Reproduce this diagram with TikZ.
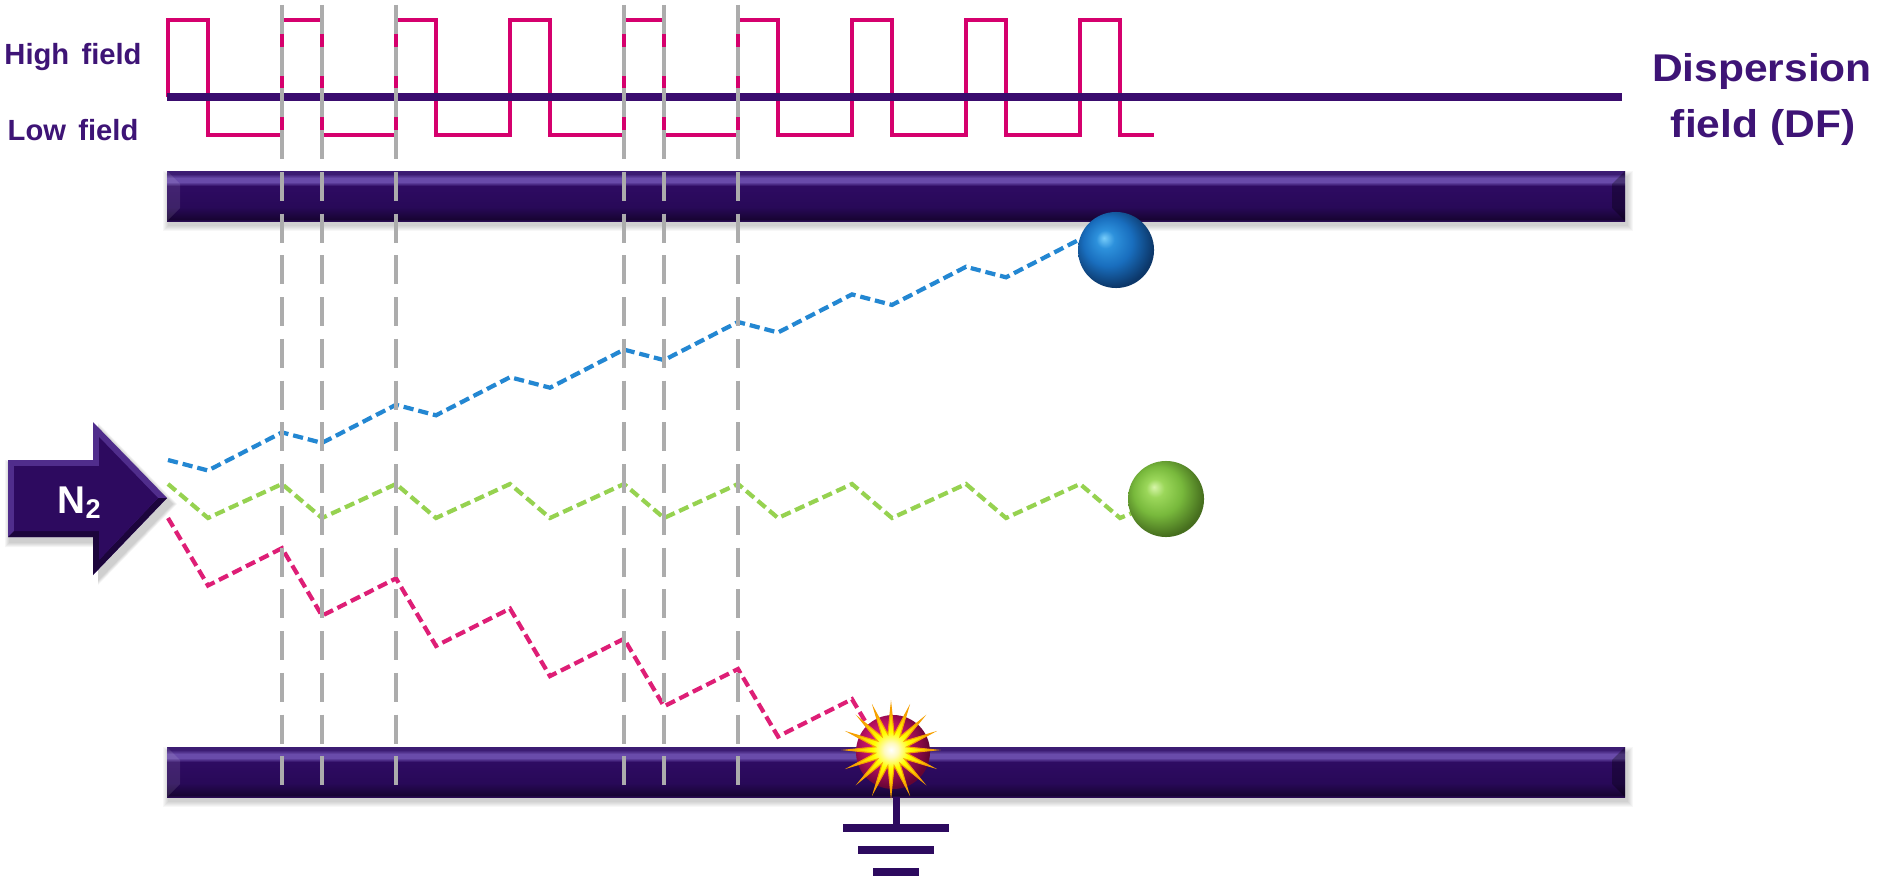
\documentclass[tikz,border=0pt]{standalone}
\usepackage{fontspec}
\setmainfont{Liberation Sans}
\usetikzlibrary{shapes.geometric}

% palette
\definecolor{deeppurple}{RGB}{45,10,95}
\definecolor{linepurple}{RGB}{58,12,110}
\definecolor{labelpurple}{RGB}{62,20,118}
\definecolor{fieldpink}{RGB}{213,0,109}
\definecolor{gridgrey}{RGB}{172,172,172}
\definecolor{ionblue}{RGB}{35,135,210}
\definecolor{iongreen}{RGB}{150,210,80}
\definecolor{ionpink}{RGB}{222,30,118}
\definecolor{arrowlight}{RGB}{80,45,140}
\definecolor{arrowdark}{RGB}{28,5,60}
\definecolor{sparkcore}{RGB}{255,250,190}
\definecolor{sparkrim}{RGB}{246,160,0}

% bar shading (bottom to top)
\definecolor{barT}{RGB}{60,28,115}
\definecolor{barL}{RGB}{105,75,170}
\definecolor{barM}{RGB}{46,11,98}
\definecolor{barC}{RGB}{40,9,88}
\definecolor{barD}{RGB}{24,4,52}
\definecolor{barE}{RGB}{42,12,82}
\pgfdeclareverticalshading{barshade}{100bp}{color(0bp)=(barE); color(25bp)=(barE); color(27bp)=(barD); color(39bp)=(barC); color(60bp)=(barM); color(64bp)=(barL); color(68bp)=(barL); color(72bp)=(barT); color(75bp)=(barT); color(100bp)=(barT)}

% sphere shadings
\definecolor{bbA}{RGB}{120,205,250}
\definecolor{bbB}{RGB}{45,145,220}
\definecolor{bbC}{RGB}{25,110,190}
\definecolor{bbD}{RGB}{12,55,105}
\definecolor{gbA}{RGB}{215,245,170}
\definecolor{gbB}{RGB}{155,215,90}
\definecolor{gbC}{RGB}{120,185,60}
\definecolor{gbD}{RGB}{70,110,30}
\definecolor{pbA}{RGB}{245,120,180}
\definecolor{pbB}{RGB}{215,30,120}
\definecolor{pbC}{RGB}{180,15,95}
\definecolor{pbD}{RGB}{100,5,50}
\pgfdeclareradialshading{blueball}{\pgfpoint{-8bp}{8bp}}{color(0bp)=(bbA); color(6bp)=(bbB); color(16bp)=(bbC); color(28bp)=(bbD); color(50bp)=(bbD)}
\pgfdeclareradialshading{greenball}{\pgfpoint{-8bp}{8bp}}{color(0bp)=(gbA); color(6bp)=(gbB); color(16bp)=(gbC); color(28bp)=(gbD); color(50bp)=(gbD)}
\pgfdeclareradialshading{pinkball}{\pgfpoint{-8bp}{8bp}}{color(0bp)=(pbA); color(6bp)=(pbB); color(16bp)=(pbC); color(28bp)=(pbD); color(50bp)=(pbD)}
\pgfdeclareradialshading{sparkshade}{\pgfpoint{0bp}{0bp}}{color(0bp)=(white); color(4bp)=(sparkcore); color(10bp)=(yellow); color(25bp)=(sparkrim); color(50bp)=(sparkrim)}

\tikzset{
  wave/.style={draw=fieldpink, line width=1pt, line join=miter},
  baseline/.style={draw=linepurple, line width=2.1pt},
  guide/.style={draw=gridgrey, line width=0.95pt, dash pattern=on 8.25pt off 3.62pt},
  traj/.style={line width=1.2pt, dash pattern=on 2.9pt off 1.4pt, line join=miter},
  ion/.style={circle, minimum size=0.76cm, inner sep=0pt, shade},
  lbl/.style={text=labelpurple, font=\fontsize{8.3}{10}\selectfont\bfseries, inner sep=0pt},
  biglbl/.style={text=labelpurple, font=\fontsize{11}{13}\selectfont\bfseries, inner sep=0pt},
  earth/.style={draw=deeppurple, line width=2pt}
}

% bevelled bar with a soft shadow; #1 = top edge
\newcommand\purplebar[1]{%
  \foreach \s in {1,...,6}{%
    \fill[black, opacity=0.03] (169-\s,#1+6-\s) rectangle (1627+\s,#1+54+\s);}
  \shade[shading=barshade] (167,#1) rectangle (1625,#1+50);
  \fill[white, opacity=0.10] (167,#1) -- (180,#1+13) -- (180,#1+37) -- (167,#1+50) -- cycle;
  \fill[black, opacity=0.30] (1625,#1) -- (1612,#1+13) -- (1612,#1+37) -- (1625,#1+50) -- cycle;
}

\begin{document}
\begin{tikzpicture}[x=0.01cm, y=-0.01cm]
\useasboundingbox (0,0) rectangle (1889,879);
\fill[white] (0,0) rectangle (1889,879);

% asymmetric waveform
\draw[wave] (168,97) -- (168,20) -- (208,20) -- (208,135) -- (282,135) -- (282,20) -- (322,20) -- (322,135)
  -- (396,135) -- (396,20) -- (436,20) -- (436,135) -- (510,135) -- (510,20) -- (550,20) -- (550,135)
  -- (624,135) -- (624,20) -- (664,20) -- (664,135) -- (738,135) -- (738,20) -- (778,20) -- (778,135)
  -- (852,135) -- (852,20) -- (892,20) -- (892,135) -- (966,135) -- (966,20) -- (1006,20) -- (1006,135)
  -- (1080,135) -- (1080,20) -- (1120,20) -- (1120,135) -- (1154,135);
\coordinate (axisL) at (167,97);
\coordinate (axisR) at (1622,97);
\draw[baseline] (axisL) -- (axisR);

% electrodes
\purplebar{171}
\purplebar{747}

% inlet arrow
\foreach \s in {1,...,5}{%
  \fill[black, opacity=0.04] (10-\s,465-\s) -- (98,465-\s) -- (98,428-\s) -- (172+\s,504) -- (98,580+\s) -- (98,542+\s) -- (10-\s,542+\s) -- cycle;}
\fill[arrowlight] (8,460) -- (93,460) -- (93,422) -- (167,498) -- (93,575) -- (93,537) -- (8,537) -- cycle;
\fill[arrowdark] (8,537) -- (14,531) -- (99,531) -- (99,560) -- (158,498) -- (167,498) -- (93,575) -- (93,537) -- cycle;
\fill[deeppurple] (14,466) -- (99,466) -- (99,437) -- (158,498) -- (99,560) -- (99,531) -- (14,531) -- cycle;
\node[text=white, font=\fontsize{11}{13}\selectfont\bfseries, anchor=base, inner sep=0pt] (gas) at (80,513) {N\textsubscript{2}};

% ion positions
\coordinate (bluepos) at (1116,250);
\coordinate (greenpos) at (1166,499);
\coordinate (pinkpos) at (893,752);

% trajectories
\draw[traj, draw=ionblue] (168,460) -- (208,470.5) -- (282,432.4) -- (322,442.9) -- (396,404.8) -- (436,415.3)
  -- (510,377.2) -- (550,387.7) -- (624,349.6) -- (664,360.1) -- (738,322) -- (778,332.5)
  -- (852,294.4) -- (892,304.9) -- (966,266.8) -- (1006,277.3) -- (1080,239.2);
\draw[traj, draw=iongreen] (168,484) -- (208,518) -- (282,484) -- (322,518) -- (396,484) -- (436,518)
  -- (510,484) -- (550,518) -- (624,484) -- (664,518) -- (738,484) -- (778,518)
  -- (852,484) -- (892,518) -- (966,484) -- (1006,518) -- (1080,484) -- (1120,518) -- (greenpos);
\draw[traj, draw=ionpink] (168,518) -- (208,585.5) -- (282,548.2) -- (322,615.7) -- (396,578.4) -- (436,645.9)
  -- (510,608.6) -- (550,676.1) -- (624,638.8) -- (664,706.3) -- (738,669) -- (778,736.5)
  -- (852,699.2) -- (880,746);

% switching instants
\foreach \x in {282,322,396,624,664,738}{
  \draw[guide] (\x,5) -- (\x,785);}

% ions
\node[ion, shading=blueball] (blueion) at (bluepos) {};
\node[ion, shading=greenball] (greenion) at (greenpos) {};
\node[ion, minimum size=0.74cm, shading=pinkball] (pinkion) at (pinkpos) {};
\node[star, star points=16, star point ratio=2.8, minimum size=0.9cm, inner sep=0pt,
      shade, shading=sparkshade, draw=sparkrim, line width=0.3pt] (spark) at (891,750) {};

% ground
\coordinate (gtop) at (896,797);
\coordinate (gfoot) at (896,828);
\draw[earth] (gtop) -- (gfoot);
\draw[earth] (843,828) -- (949,828);
\draw[earth] (858,850) -- (934,850);
\draw[earth] (873,872) -- (919,872);

% labels
\node[lbl, anchor=base] (highlbl) at (73,65) {High\hspace{0.42em}field};
\node[lbl, anchor=base] (lowlbl) at (73,140) {Low\hspace{0.42em}field};
\node[biglbl, anchor=base] (dflbl) at (1762,82) {\scalebox{1.1}[1]{Dispersion}};
\node[biglbl, anchor=base] (dflbl2) at (1763,138) {\scalebox{1.1}[1]{field (DF)}};
\end{tikzpicture}
\end{document}
